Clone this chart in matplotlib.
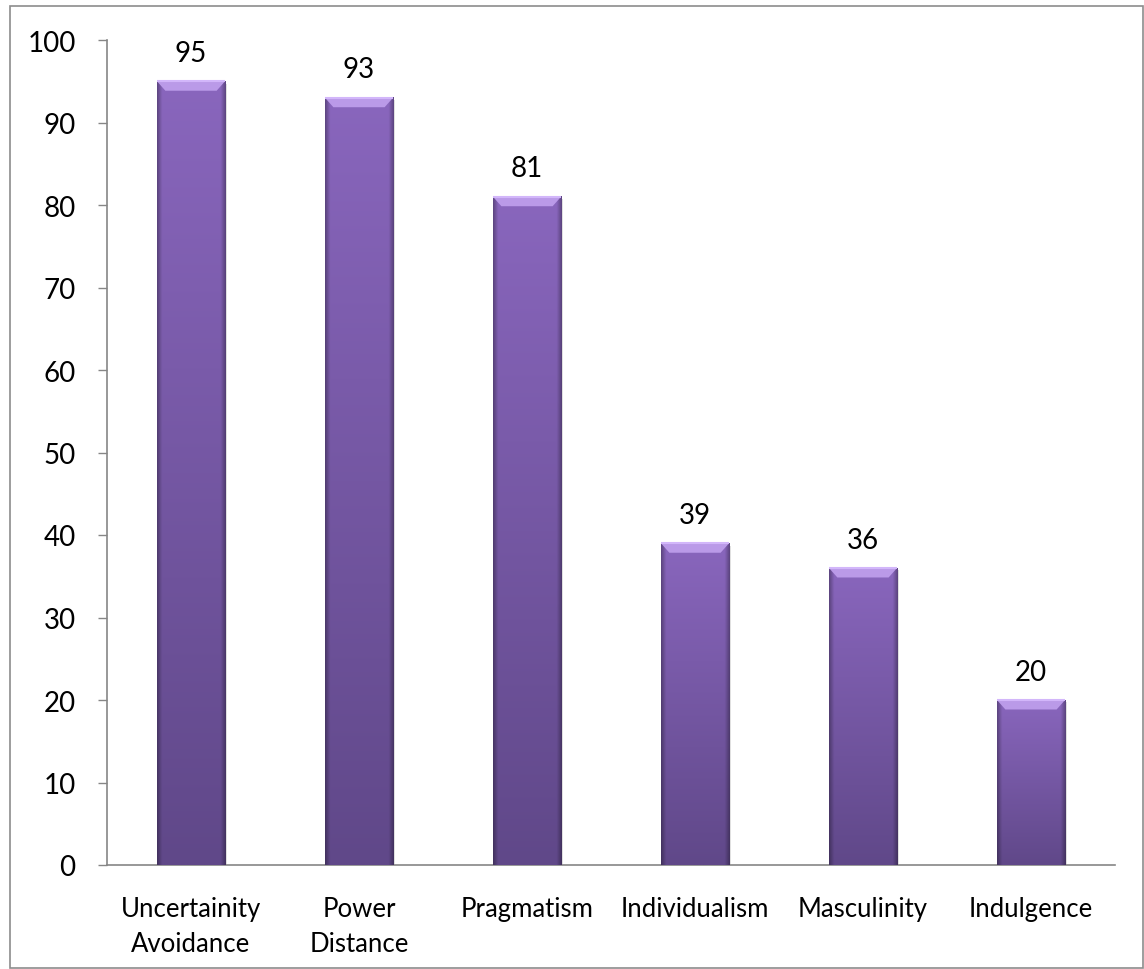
import numpy as np
import matplotlib.pyplot as plt
from matplotlib.patches import Rectangle, Polygon
from matplotlib.colors import to_rgb

plt.rcParams['font.family'] = ['Lato', 'DejaVu Sans']

categories = ["Uncertainity\nAvoidance", "Power\nDistance", "Pragmatism",
              "Individualism", "Masculinity", "Indulgence"]
values = [95, 93, 81, 39, 36, 20]

fig = plt.figure(figsize=(11.44, 9.70), dpi=100)
ax = fig.add_axes([107 / 1144, 1 - 866 / 970, 1008 / 1144, 825 / 970])

# outer chart border
fig.patches.append(Rectangle((10 / 1144, 1 / 970), 1133 / 1144, 962 / 970,
                             transform=fig.transFigure, fill=False,
                             edgecolor='#8c8c8c', linewidth=1.2))

x = np.arange(len(values))
width = 0.405
bars = ax.bar(x, values, width=width, color='none', zorder=2)

top_col = np.array(to_rgb('#8966bd'))
bot_col = np.array(to_rgb('#604889'))
ny, nx = 200, 60
t = np.linspace(0, 1, ny)[:, None]          # 0 bottom -> 1 top
u = np.linspace(0, 1, nx)[None, :]
edge = np.minimum(u, 1 - u)
shade = 0.7 + 0.3 * np.clip(edge / 0.07, 0, 1)

for b, v in zip(bars, values):
    x0 = b.get_x()
    x1 = x0 + b.get_width()
    # soft shadow
    ax.add_patch(Rectangle((x0 + 0.012, -0.3), b.get_width(), v, color='#000000',
                           alpha=0.12, zorder=1, linewidth=0))
    rgb = (bot_col[None, None, :] * (1 - t[..., None]) +
           top_col[None, None, :] * t[..., None]) * shade[..., None]
    ax.imshow(rgb, extent=[x0, x1, 0, v], origin='lower', aspect='auto',
              zorder=3, interpolation='bilinear')
    # top bevel
    dy = 1.15
    dx = 0.05
    ax.add_patch(Polygon([[x0, v], [x1, v], [x1 - dx, v - dy], [x0 + dx, v - dy]],
                         closed=True, facecolor='#ba9ae8', edgecolor='none',
                         zorder=4))
    ax.plot([x0, x1], [v, v], color='#d2b6fa', linewidth=1.5, zorder=5,
            solid_capstyle='butt')
    ax.annotate(str(v), (b.get_x() + b.get_width() / 2, v), xytext=(0, 11),
                textcoords='offset points', ha='center', va='bottom',
                fontsize=20, color='black')

ax.set_xlim(-0.5, len(values) - 0.5)
ax.set_ylim(0, 100)
ax.set_yticks(range(0, 101, 10))
ax.set_xticks(x)
ax.set_xticklabels(categories, fontsize=18.5, linespacing=1.5)
ax.tick_params(axis='y', labelsize=20, length=6.5, width=1, color='#868686',
               pad=16)
ax.tick_params(axis='x', length=0, pad=22)

for s in ['top', 'right']:
    ax.spines[s].set_visible(False)
for s in ['left', 'bottom']:
    ax.spines[s].set_color('#868686')
    ax.spines[s].set_linewidth(1.2)

fig.savefig('out.png', dpi=100)
